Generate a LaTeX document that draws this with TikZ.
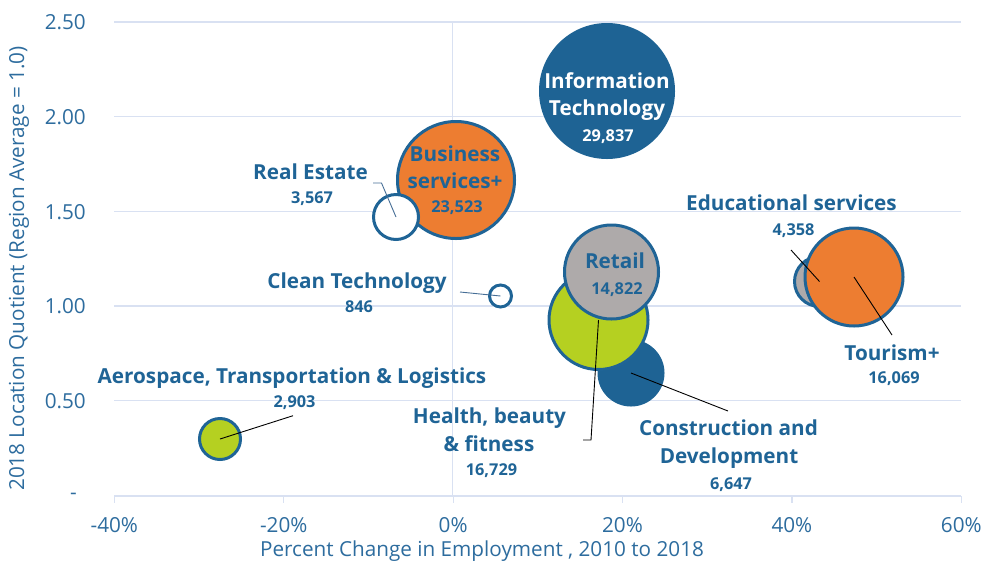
\documentclass[tikz,border=0pt]{standalone}
\usepackage{fontspec}
\setmainfont{Open Sans}
\definecolor{textblue}{RGB}{31,100,150}
\definecolor{tickblue}{RGB}{45,108,158}
\definecolor{edgeblue}{RGB}{31,100,150}
\definecolor{itblue}{RGB}{30,99,148}
\definecolor{bizorange}{RGB}{237,125,49}
\definecolor{retgrey}{RGB}{174,170,170}
\definecolor{limegreen}{RGB}{181,208,33}
\definecolor{gridcol}{RGB}{217,225,242}
\definecolor{leadgrey}{RGB}{70,110,150}

\begin{document}
\begin{tikzpicture}
  [x=1pt, y=-1pt,
   grid line/.style={draw=gridcol, line width=1.2},
   bubble/.style={circle, draw=edgeblue, line width=3, inner sep=0pt},
   cluster name/.style={font=\fontsize{20.7}{24}\selectfont\bfseries, text=textblue, anchor=base, inner sep=0pt},
   cluster count/.style={font=\fontsize{16.3}{19}\selectfont\bfseries, text=textblue, anchor=base, inner sep=0pt},
   tick label/.style={font=\fontsize{20.7}{24}\selectfont, text=tickblue, inner sep=0pt},
   leader/.style={draw=black, line width=0.9},
  ]
  \useasboundingbox (0,0) rectangle (981,566);

  % grid and axes
  \foreach \lab/\yy [count=\i] in {2.50/22, 2.00/116.7, 1.50/211.3, 1.00/306, 0.50/400.7}{
    \draw[grid line] (114.3,\yy) -- (961.3,\yy);
    \node[tick label, anchor=east] (ytick\i) at (86,\yy+0.5) {\lab};
  }
  \node[tick label, anchor=east] (ytick6) at (77,496) {-};
  \draw[grid line] (114.3,496) -- (961.3,496);
  \draw[grid line] (452.7,22) -- (452.7,496);
  \foreach \lab [count=\i] in {-40\%,-20\%,0\%,20\%,40\%,60\%}{
    \draw[grid line] (114.3+169.4*\i-169.4,496) -- ++(0,7);
    \node[tick label, anchor=base] (xtick\i) at (114.3+169.4*\i-169.4,532.5) {\lab};
  }
  \node[tick label, anchor=base] (xtitle) at (482,556.5) {Percent Change in Employment , 2010 to 2018};
  \node[tick label, anchor=base, rotate=90] (ytitle) at (24,268.5) {2018 Location Quotient (Region Average = 1.0)};

  % bubbles
  \node[bubble, fill=itblue, draw=itblue, minimum size=133] (it) at (607,91) {};
  \node[bubble, fill=bizorange, minimum size=117] (biz) at (456,180) {};
  \node[bubble, fill=white, minimum size=45] (realestate) at (396,217) {};
  \node[bubble, fill=white, minimum size=22] (clean) at (500.5,296) {};
  \node[bubble, fill=itblue, draw=itblue, minimum size=64] (constr) at (631,373) {};
  \node[bubble, fill=limegreen, minimum size=99] (health) at (598.5,320) {};
  \node[bubble, fill=retgrey, minimum size=94] (retail) at (611.5,272) {};
  \node[bubble, fill=retgrey, minimum size=50] (edu) at (819.5,281.5) {};
  \node[bubble, fill=bizorange, minimum size=98] (tourism) at (854,277) {};
  \node[bubble, fill=limegreen, minimum size=41] (aero) at (220,439) {};

  % labels
  \node[cluster name, text=white] (it-name1) at (607,88) {Information};
  \node[cluster name, text=white] (it-name2) at (607,115) {Technology};
  \node[cluster count, text=white] (it-count) at (608,141) {29,837};
  \node[cluster name] (biz-name1) at (455,161) {Business};
  \node[cluster name] (biz-name2) at (455,188) {services+};
  \node[cluster count] (biz-count) at (457,212) {23,523};
  \node[cluster name] (re-name) at (310.5,179) {Real Estate};
  \node[cluster count] (re-count) at (312,203.5) {3,567};
  \node[cluster name] (clean-name) at (357,288) {Clean Technology};
  \node[cluster count] (clean-count) at (359,312) {846};
  \node[cluster name] (aero-name) at (292,383) {Aerospace, Transportation \& Logistics};
  \node[cluster count] (aero-count) at (294.5,407) {2,903};
  \node[cluster name] (health-name1) at (489.5,423) {Health, beauty};
  \node[cluster name] (health-name2) at (489,451.5) {\& fitness};
  \node[cluster count] (health-count) at (491.5,475) {16,729};
  \node[cluster name] (retail-name) at (615,268) {Retail};
  \node[cluster count] (retail-count) at (617,294) {14,822};
  \node[cluster name] (constr-name1) at (728.5,435) {Construction and};
  \node[cluster name] (constr-name2) at (729,463) {Development};
  \node[cluster count] (constr-count) at (731,489) {6,647};
  \node[cluster name] (edu-name) at (791.5,210) {Educational services};
  \node[cluster count] (edu-count) at (793.5,235) {4,358};
  \node[cluster name] (tourism-name) at (892,360) {Tourism+};
  \node[cluster count] (tourism-count) at (894,383) {16,069};

  % leader lines
  \coordinate (re-end) at (373,183);
  \coordinate (clean-end) at (460,292);
  \coordinate (aero-end) at (293,415.7);
  \coordinate (health-end) at (583,440);
  \coordinate (constr-end) at (728,411);
  \coordinate (edu-end) at (791,250);
  \coordinate (tourism-end) at (892,335);
  \draw[leader, draw=leadgrey] (re-end) -- ++(8.5,0) -- (realestate.center);
  \draw[leader, draw=leadgrey] (clean-end) -- (clean.center);
  \draw[leader] (aero-end) -- (aero.center);
  \draw[leader] (health-end) -- ++(8,0) -- (health.center);
  \draw[leader] (constr-end) -- (constr.center);
  \draw[leader] (edu-end) -- (edu.center);
  \draw[leader] (tourism-end) -- (tourism.center);
\end{tikzpicture}
\end{document}
